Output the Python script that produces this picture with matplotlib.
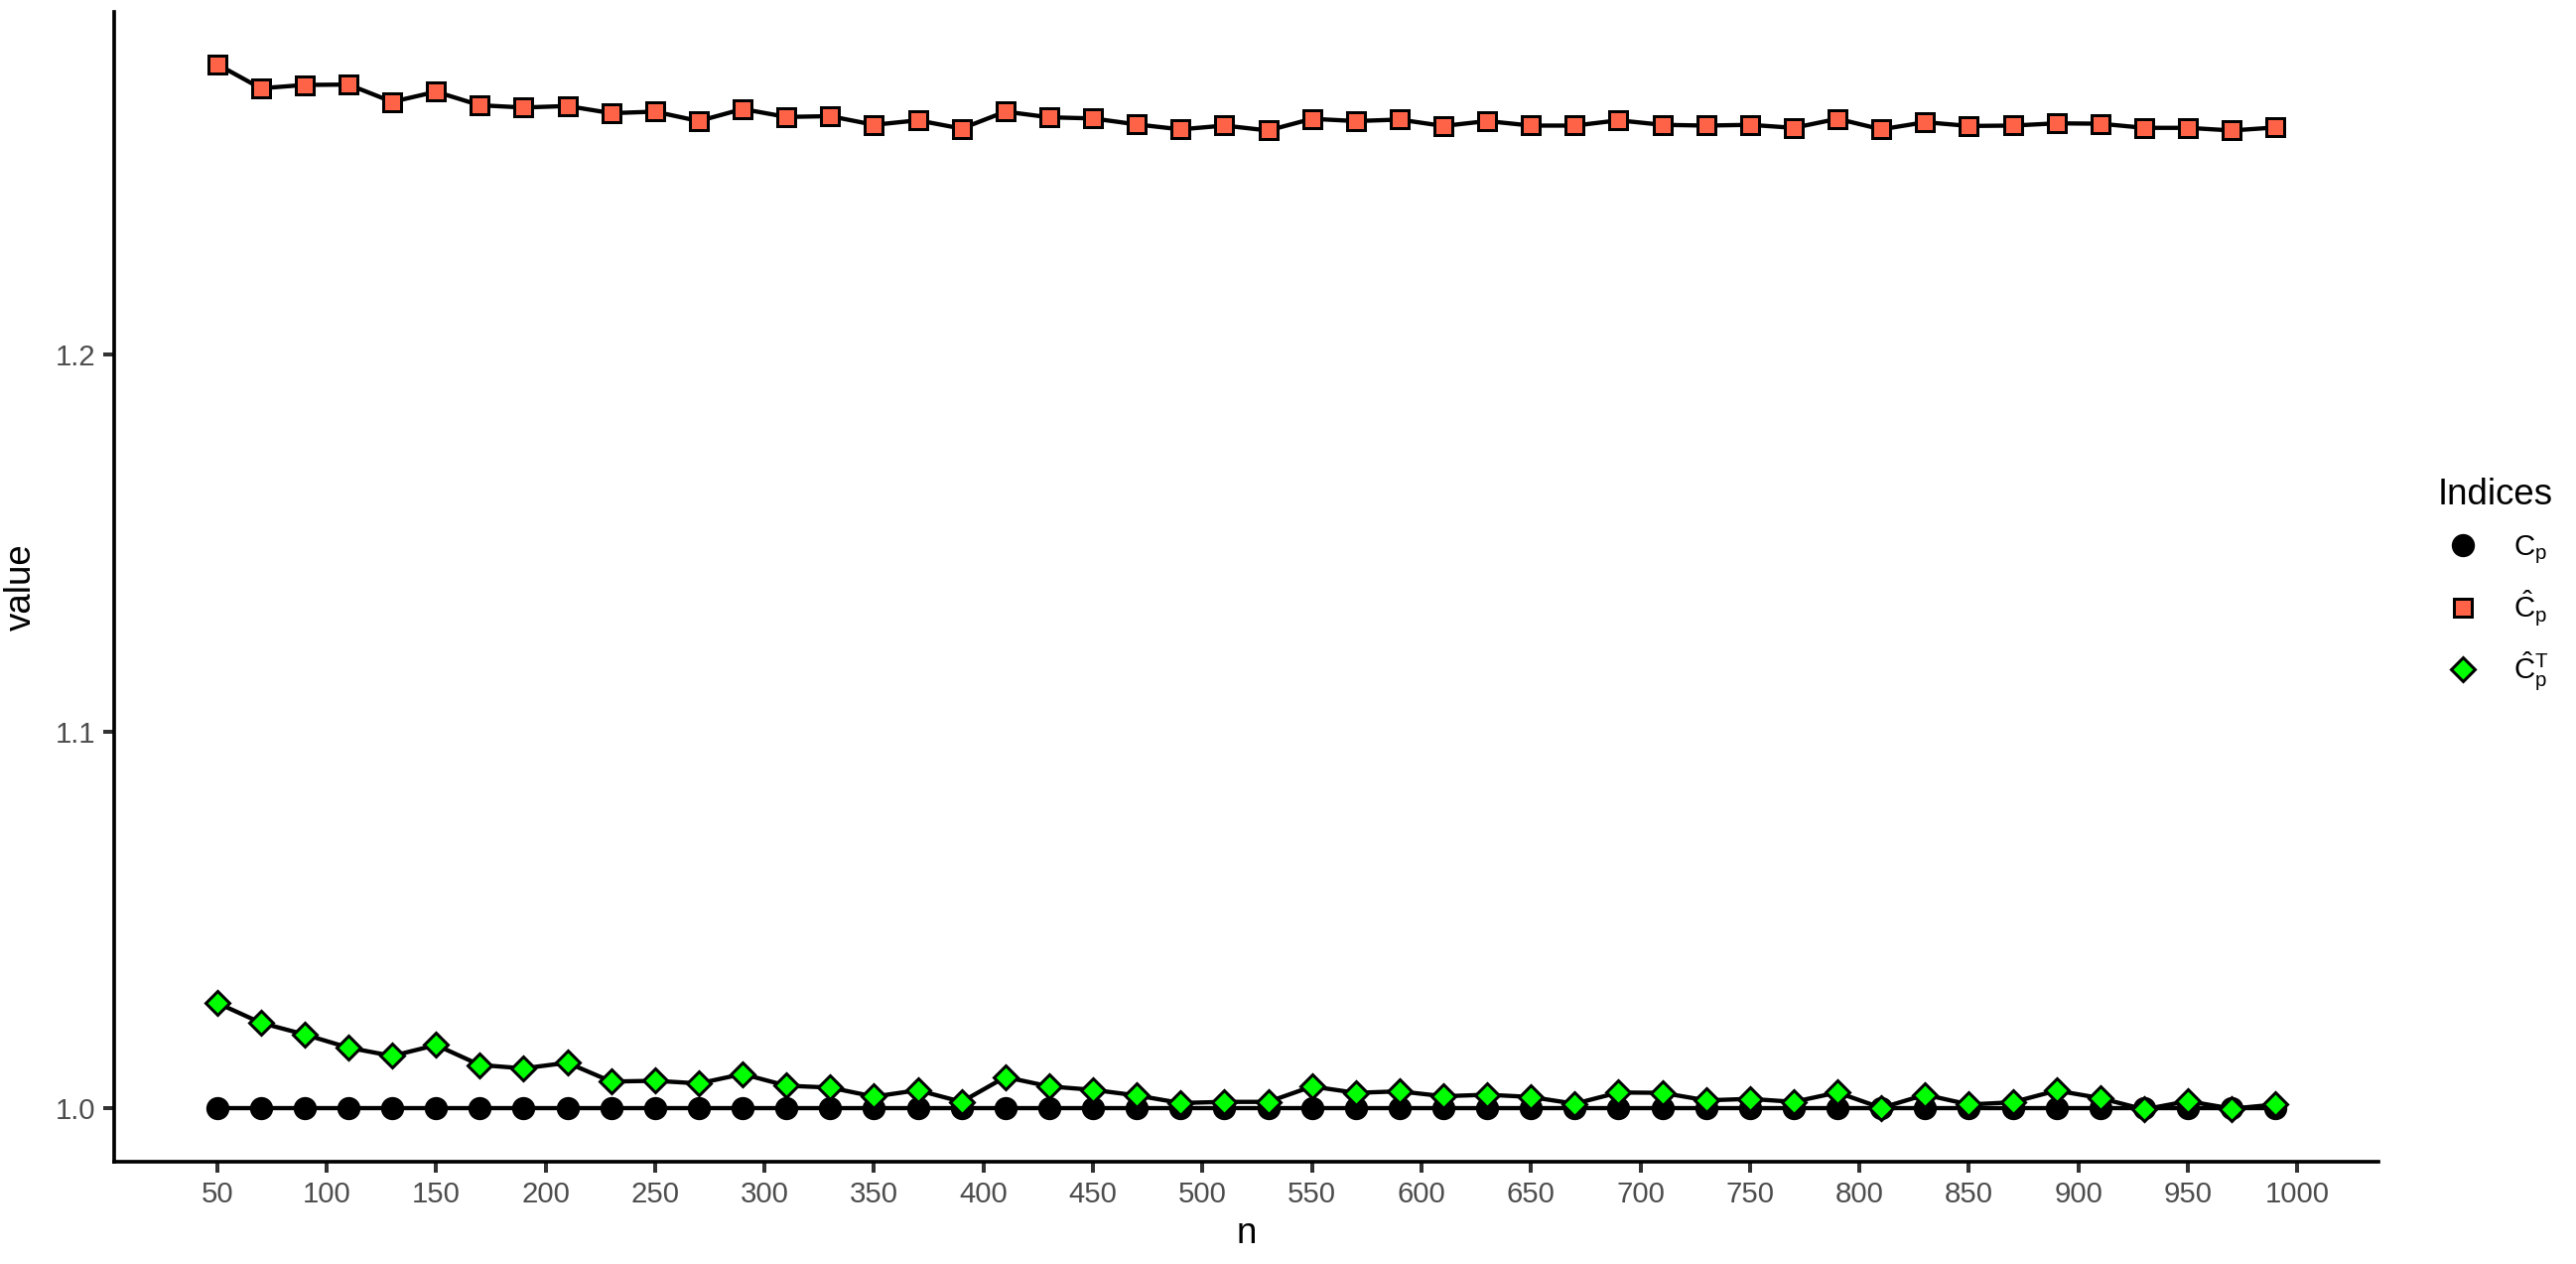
import matplotlib
matplotlib.use("Agg")
import matplotlib.pyplot as plt
from matplotlib.lines import Line2D

plt.rcParams['font.family'] = ['Liberation Sans', 'DejaVu Sans']
plt.rcParams['mathtext.fontset'] = 'custom'
plt.rcParams['mathtext.rm'] = 'Liberation Sans'
plt.rcParams['mathtext.it'] = 'Liberation Sans'
plt.rcParams['mathtext.bf'] = 'Liberation Sans:bold'

# sample sizes
n = list(range(50, 1000, 20))

# true index
cp = [1.0] * len(n)

# estimated index
cp_hat = [1.2772, 1.2708, 1.2717, 1.2718, 1.2672, 1.2699, 1.2663, 1.2657, 1.2661, 1.2642,
          1.2646, 1.2621, 1.2653, 1.2632, 1.2634, 1.2611, 1.2623, 1.2601, 1.2646, 1.2631,
          1.2628, 1.2612, 1.2599, 1.2609, 1.2596, 1.2627, 1.2621, 1.2625, 1.2608, 1.2621,
          1.2609, 1.2609, 1.2623, 1.2611, 1.2609, 1.2611, 1.2603, 1.2627, 1.2599, 1.2618,
          1.2608, 1.2609, 1.2615, 1.2614, 1.2603, 1.2603, 1.2596, 1.2604]

# corrected estimate
cp_hat_t = [1.0279, 1.0226, 1.0195, 1.0160, 1.0138, 1.0167, 1.0114, 1.0105, 1.0120, 1.0070,
            1.0072, 1.0065, 1.0090, 1.0059, 1.0054, 1.0030, 1.0047, 1.0016, 1.0082, 1.0057,
            1.0048, 1.0033, 1.0013, 1.0016, 1.0016, 1.0057, 1.0040, 1.0044, 1.0031, 1.0035,
            1.0029, 1.0011, 1.0041, 1.0040, 1.0020, 1.0024, 1.0016, 1.0041, 1.0000, 1.0035,
            1.0009, 1.0015, 1.0046, 1.0026, 0.9996, 1.0018, 0.9998, 1.0009]

x_ticks = list(range(50, 1001, 50))
y_ticks = [1.0, 1.1, 1.2]

labels = [r'$C_p$', r'$\hat{C}_p$', r'$\hat{C}_p^T$']
red = '#FF6347'
green = '#00FF00'

fig = plt.figure(figsize=(2595 / 240, 1273 / 240), dpi=240)
ax = fig.add_axes([0.0443, 0.0809, 0.879, 0.9097])

lw = 1.3
ms_o, ms_s, ms_d = 6.0, 5.4, 5.1
mew = 0.9
ax.plot(n, cp, color='black', lw=lw, zorder=2)
ax.plot(n, cp, 'o', ms=ms_o, color='black', mec='black', zorder=3)
ax.plot(n, cp_hat, color='black', lw=lw, zorder=2)
ax.plot(n, cp_hat, 's', ms=ms_s, mfc=red, mec='black', mew=mew, zorder=3)
ax.plot(n, cp_hat_t, color='black', lw=lw, zorder=4)
ax.plot(n, cp_hat_t, 'D', ms=ms_d, mfc=green, mec='black', mew=mew, zorder=5)

ax.set_xlim(3, 1037)
ax.set_ylim(0.9857, 1.2911)
ax.set_xticks(x_ticks)
ax.set_yticks(y_ticks)
ax.set_yticklabels(['1.0', '1.1', '1.2'])

for side in ['top', 'right']:
    ax.spines[side].set_visible(False)
for side in ['left', 'bottom']:
    ax.spines[side].set_linewidth(1.1)
    ax.spines[side].set_color('black')

ax.tick_params(axis='both', length=3.2, width=1.2, color='#333333',
               labelcolor='#4D4D4D', labelsize=8.8, pad=2.4)
ax.set_xlabel('n', fontsize=11, labelpad=2.5)
ax.set_ylabel('value', fontsize=11, labelpad=5)

handles = [
    Line2D([], [], ls='', marker='o', ms=ms_o, color='black'),
    Line2D([], [], ls='', marker='s', ms=ms_s, mfc=red, mec='black', mew=mew),
    Line2D([], [], ls='', marker='D', ms=ms_d, mfc=green, mec='black', mew=mew),
]
leg = fig.legend(handles, labels, title='Indices', loc='upper left',
                 bbox_to_anchor=(2441 / 2595, 1 - 466 / 1273), frameon=False,
                 fontsize=8.8, title_fontsize=11, handlelength=1.7,
                 handletextpad=0.9, labelspacing=0.75, borderpad=0)
leg._legend_box.align = 'left'

fig.savefig('out.png', dpi=240)
